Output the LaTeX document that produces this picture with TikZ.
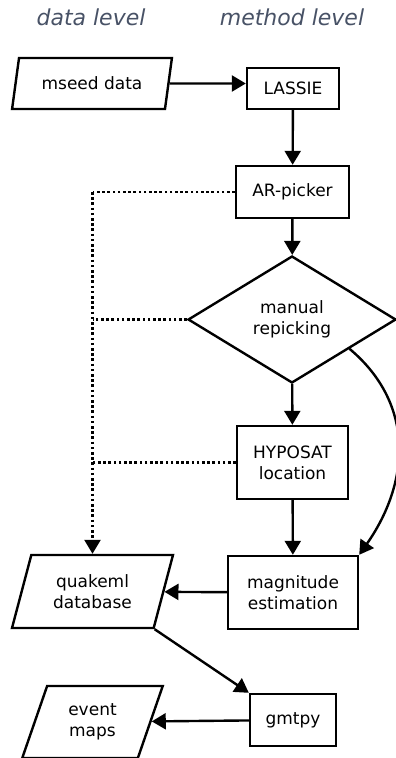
\documentclass[tikz,border=0pt]{standalone}
\usepackage{fontspec}
\setmainfont{DejaVu Sans}
\definecolor{levelgray}{RGB}{72,82,102}
\usetikzlibrary{shapes.geometric, arrows.meta}

\begin{document}
\begin{tikzpicture}[x=1pt, y=-1pt, line width=2.4pt,
    font=\fontsize{17pt}{21pt}\selectfont,
    procbox/.style={draw, rectangle, align=center, inner sep=0pt},
    databox/.style={draw, trapezium, trapezium left angle=70,
      trapezium right angle=110, trapezium stretches=true,
      align=center, inner sep=0pt},
    decbox/.style={draw, diamond, align=center, inner sep=0pt},
    flow/.style={-{Triangle[length=14pt, width=16pt]}},
    dataflow/.style={line width=2.6pt, dash pattern=on 2.6pt off 2.6pt},
    levelname/.style={text=levelgray, font=\fontsize{22pt}{26pt}\selectfont\itshape}]
  \useasboundingbox (0,0) rectangle (396,758);

  % column headings
  \node[levelname] (datalvl) at (91,17) {data level};
  \node[levelname] (methodlvl) at (292,17) {method level};

  % method level
  \node[procbox, minimum width=92pt, minimum height=41pt] (lassie) at (293,88.5) {LASSIE};
  \node[procbox, minimum width=113pt, minimum height=52pt] (arpick) at (292.5,192) {AR-picker};
  \node[decbox, minimum width=208pt, minimum height=127pt] (manual) at (292,319.5) {manual\\repicking};
  \node[procbox, minimum width=111pt, minimum height=73pt] (hyposat) at (292.5,462.5) {HYPOSAT\\location};
  \node[procbox, minimum width=130pt, minimum height=73pt] (magest) at (293,592.5) {magnitude\\estimation};
  \node[procbox, minimum width=86pt, minimum height=52pt] (gmtpy) at (293,720) {gmtpy};

  % data level
  \node[databox, minimum width=160pt, minimum height=51pt] (mseed) at (92,83.5) {mseed data};
  \node[databox, minimum width=161pt, minimum height=73pt] (quakeml) at (92.5,591.5) {quakeml\\database};
  \node[databox, minimum width=141pt, minimum height=72pt] (events) at (92.5,722) {event\\maps};

  % processing chain
  \draw[flow] (mseed) -- (mseed -| lassie.west);
  \draw[flow] (lassie) -- (arpick);
  \draw[flow] (arpick) -- (manual);
  \draw[flow] (manual) -- (hyposat);
  \draw[flow] (hyposat) -- (magest);
  \draw[flow] (manual.-27) to[out=-40, in=55, looseness=1.08] (magest.north east);
  \draw[flow] (magest) -- (quakeml);
  \draw[flow] (quakeml.bottom right corner) -- (gmtpy.north west);
  \draw[flow] (gmtpy) -- (events);

  % results stored in the database
  \draw[dataflow] (arpick.west) -- (arpick.west -| quakeml.north);
  \draw[dataflow, flow] (arpick.west -| quakeml.north) -- (quakeml.north);
  \draw[dataflow] (manual.west) -- (manual.west -| quakeml.north);
  \draw[dataflow] (hyposat.west) -- (hyposat.west -| quakeml.north);
\end{tikzpicture}
\end{document}
